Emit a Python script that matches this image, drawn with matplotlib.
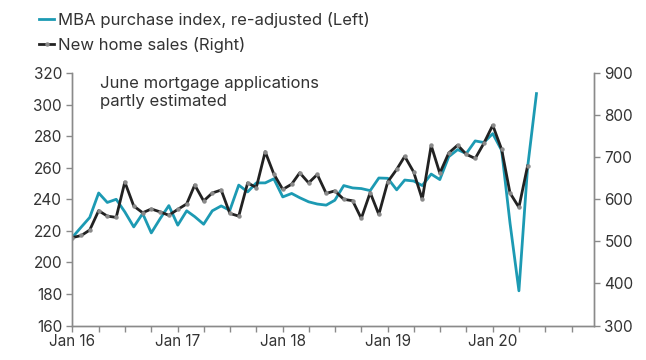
import pandas as pd
import matplotlib

matplotlib.use("Agg")
import matplotlib.pyplot as plt
import matplotlib.dates as mdates

# Monthly data, Jan 2016 onward
months_mba = pd.date_range("2016-01-01", periods=54, freq="MS")
months_sales = months_mba[:53]

# MBA purchase index, re-adjusted (left axis)
mba_index = [
    216, 222.5, 228.5, 244, 238, 240, 232, 222.5, 231, 218.7, 227.8, 236,
    223.6, 232.7, 229, 224.2, 232.7, 235.8, 233, 249, 244.7, 250.4, 250.4, 253,
    241.5, 243.7, 241, 238.4, 237, 236.3, 239.4, 248.7, 247.2, 246.8, 245.5, 253.5,
    253.3, 246, 252.2, 251.6, 248.7, 256, 252.5, 267, 271.5, 269, 277, 276,
    281.6, 271, 225, 182, 260, 307,
]

# New home sales, thousands (right axis)
new_home_sales = [
    509, 514, 527, 573, 560, 557, 641, 584, 568, 577, 570, 562,
    576, 589, 634, 596, 615, 622, 566.5, 560, 639, 628, 713, 660,
    623.5, 636, 663, 639, 659, 614, 620, 600, 596.5, 554.5, 616, 564,
    641.5, 671, 702, 665, 600, 728, 662, 710, 728.7, 707, 697, 733,
    776, 718.5, 615, 581, 679,
]

left_ticks = [160, 180, 200, 220, 240, 260, 280, 300, 320]
right_ticks = [300, 400, 500, 600, 700, 800, 900]

label_mba = "MBA purchase index, re-adjusted (Left)"
label_sales = "New home sales (Right)"
note = "June mortgage applications\npartly estimated"

BLUE = "#1c9ab3"
BLACK = "#222222"
GREY = "#8a8a8a"
TEXT = "#333333"


def style_axis(ax):
    for side in ["left", "right", "bottom"]:
        ax.spines[side].set_color(GREY)
        ax.spines[side].set_linewidth(1.0)
    ax.spines["top"].set_visible(False)
    ax.tick_params(which="both", colors=GREY, labelcolor=TEXT, labelsize=11,
                   length=4, width=1.0)


def main():
    plt.rcParams["font.family"] = ["Inter", "DejaVu Sans"]

    fig = plt.figure(figsize=(6.46, 3.6), dpi=100)
    ax = fig.add_axes([0.1122, 0.0958, 0.8073, 0.7012])
    ax2 = ax.twinx()

    ax.plot(months_mba, mba_index, color=BLUE, lw=2.0, label=label_mba)
    ax2.plot(months_sales, new_home_sales, color=BLACK, lw=2.0,
             marker="o", ms=2.2, mfc=GREY, mec=GREY, label=label_sales)

    ax.set_ylim(160, 320)
    ax.set_yticks(left_ticks)
    ax2.set_ylim(300, 900)
    ax2.set_yticks(right_ticks)

    ax.set_xlim(pd.Timestamp("2016-01-01"), pd.Timestamp("2020-12-18"))
    ax.xaxis.set_major_locator(mdates.YearLocator())
    ax.xaxis.set_major_formatter(mdates.DateFormatter("Jan %y"))
    ax.xaxis.set_minor_locator(mdates.MonthLocator(bymonth=[4, 7, 10]))

    style_axis(ax)
    style_axis(ax2)
    ax.tick_params(axis="x", pad=2)

    ax.text(0.052, 0.99, note, transform=ax.transAxes, ha="left", va="top",
            fontsize=12, color=TEXT, linespacing=1.3)

    handles = ax.get_lines() + ax2.get_lines()
    leg = fig.legend(handles, [h.get_label() for h in handles],
                     loc="upper left", bbox_to_anchor=(0.045, 0.995),
                     frameon=False, fontsize=12, handlelength=0.9,
                     handletextpad=0.25, labelspacing=0.55, borderaxespad=0.2,
                     numpoints=1)
    for t in leg.get_texts():
        t.set_color(TEXT)

    fig.savefig("out.png", dpi=100)
    plt.close(fig)


if __name__ == "__main__":
    main()
